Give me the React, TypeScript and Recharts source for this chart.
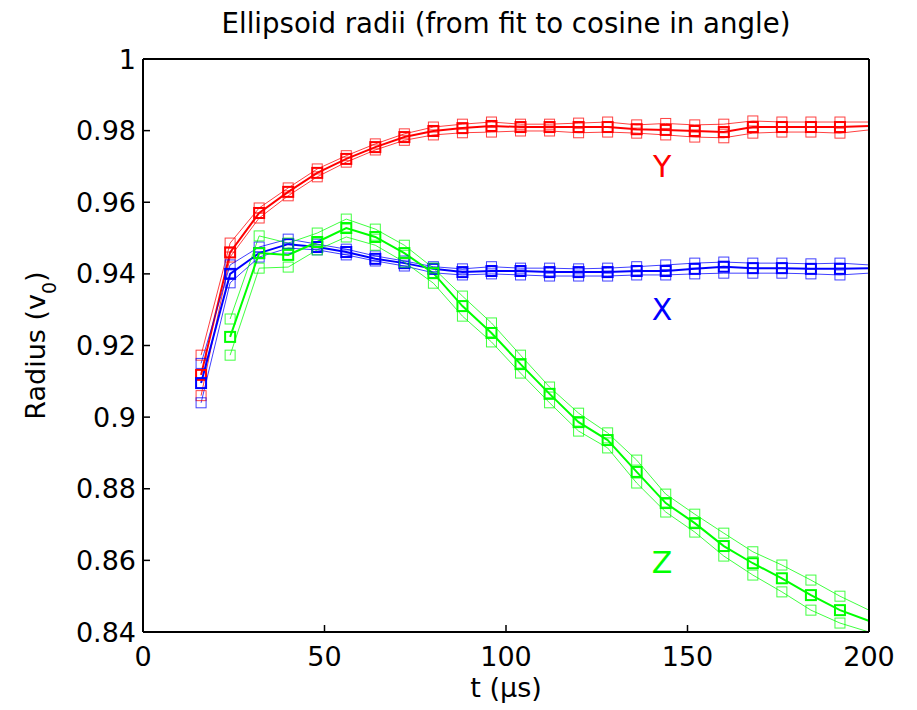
import { LineChart, Line, XAxis, YAxis, ReferenceDot } from 'recharts'

const FONT = '"DejaVu Sans", sans-serif'

// time (µs); last point sits past the axis edge and is clipped
const times = [16, 24, 32, 40, 48, 56, 64, 72, 80, 88, 96, 104, 112, 120, 128, 136, 144, 152, 160, 168, 176, 184, 192, 208]

const yMid = [0.9118, 0.946, 0.957, 0.9629, 0.9682, 0.9721, 0.9754, 0.9782, 0.9799, 0.9807, 0.9813, 0.981, 0.981, 0.981, 0.981, 0.9804, 0.9802, 0.9799, 0.9796, 0.981, 0.981, 0.981, 0.981, 0.9816]
const yHi = [0.9173, 0.9486, 0.9584, 0.964, 0.9693, 0.973, 0.9763, 0.9791, 0.981, 0.9818, 0.9824, 0.9818, 0.9818, 0.9821, 0.9824, 0.9816, 0.982, 0.9816, 0.9818, 0.9827, 0.9824, 0.9824, 0.9824, 0.9824]
const yLo = [0.906, 0.9447, 0.9556, 0.9618, 0.9671, 0.9712, 0.9746, 0.9773, 0.9788, 0.9794, 0.9796, 0.9799, 0.9799, 0.9794, 0.9796, 0.9793, 0.9788, 0.9782, 0.978, 0.9793, 0.9796, 0.9796, 0.9793, 0.9811]

const xMid = [0.9095, 0.94, 0.9458, 0.9483, 0.9475, 0.9461, 0.9442, 0.943, 0.9414, 0.9405, 0.9408, 0.9408, 0.9405, 0.9405, 0.9405, 0.9408, 0.9408, 0.9414, 0.942, 0.9416, 0.9416, 0.9414, 0.9414, 0.9418]
const xHi = [0.915, 0.9425, 0.9475, 0.9497, 0.9483, 0.9469, 0.945, 0.9436, 0.942, 0.9414, 0.942, 0.9416, 0.9416, 0.9414, 0.9416, 0.942, 0.9425, 0.943, 0.9433, 0.943, 0.943, 0.9428, 0.943, 0.942]
const xLo = [0.904, 0.9375, 0.9447, 0.9472, 0.9467, 0.9453, 0.9436, 0.9422, 0.9403, 0.9397, 0.94, 0.9397, 0.9394, 0.9394, 0.9394, 0.9397, 0.9397, 0.94, 0.9402, 0.9402, 0.9402, 0.94, 0.9397, 0.9407]

const zMid = [null, 0.9224, 0.9458, 0.9453, 0.9489, 0.9528, 0.9503, 0.9458, 0.9402, 0.931, 0.9235, 0.9148, 0.9065, 0.8986, 0.8936, 0.8847, 0.876, 0.8704, 0.864, 0.8592, 0.855, 0.8503, 0.8461, 0.8401]
const zHi = [null, 0.9274, 0.9506, 0.9486, 0.9514, 0.9553, 0.9525, 0.948, 0.9416, 0.9338, 0.9263, 0.9173, 0.9084, 0.9011, 0.8956, 0.888, 0.8785, 0.8729, 0.8676, 0.8624, 0.8587, 0.8545, 0.85, 0.8422]
const zLo = [null, 0.9173, 0.9416, 0.9419, 0.9467, 0.9503, 0.948, 0.9433, 0.9374, 0.9282, 0.921, 0.9123, 0.904, 0.8961, 0.8914, 0.8816, 0.8735, 0.8679, 0.8612, 0.8559, 0.8512, 0.8461, 0.8425, 0.8375]

const xTicks = [0, 50, 100, 150, 200]
const yTicks = [0.84, 0.86, 0.88, 0.9, 0.92, 0.94, 0.96, 0.98, 1]

const labels = [
    { text: 'Y', t: 143, v: 0.9701, color: '#ff0000' },
    { text: 'X', t: 143, v: 0.9302, color: '#0000ff' },
    { text: 'Z', t: 143, v: 0.8595, color: '#00ff00' },
]

const data = times.map((t, i) => ({
    t,
    yMid: yMid[i], yHi: yHi[i], yLo: yLo[i],
    xMid: xMid[i], xHi: xHi[i], xLo: xLo[i],
    zMid: zMid[i], zHi: zHi[i], zLo: zLo[i],
}))

const series = [
    { key: 'yHi', color: '#ff0000', main: false },
    { key: 'yLo', color: '#ff0000', main: false },
    { key: 'yMid', color: '#ff0000', main: true },
    { key: 'xHi', color: '#0000ff', main: false },
    { key: 'xLo', color: '#0000ff', main: false },
    { key: 'xMid', color: '#0000ff', main: true },
    { key: 'zHi', color: '#00ff00', main: false },
    { key: 'zLo', color: '#00ff00', main: false },
    { key: 'zMid', color: '#00ff00', main: true },
]

const squareDot = (color: string, sw: number, op: number) => (props: any) => {
    const { cx, cy, index, value } = props
    if (cx == null || cy == null || value == null || Number.isNaN(cy)) return <g key={`d-${index}`} />
    return (
        <rect key={`d-${index}`} x={cx - 5} y={cy - 5} width={10} height={10}
            fill="none" stroke={color} strokeWidth={sw} strokeOpacity={op} />
    )
}

const RadiusLabel = (props: any) => {
    const vb = props.viewBox || { y: 59, height: 573 }
    const cx = 45
    const cy = vb.y + vb.height / 2
    return (
        <text x={cx} y={cy} transform={`rotate(-90 ${cx} ${cy})`} textAnchor="middle"
            fontFamily={FONT} fontSize={27} fill="#000">
            Radius (v<tspan baselineShift="sub" fontSize={19}>0</tspan>)
        </text>
    )
}

const TimeLabel = (props: any) => {
    const vb = props.viewBox || { x: 143, width: 726 }
    return (
        <text x={vb.x + vb.width / 2} y={697} textAnchor="middle" fontFamily={FONT} fontSize={27} fill="#000">
            t (μs)
        </text>
    )
}

const tickStyle = { fontFamily: FONT, fontSize: 27, fill: '#000' }
const axisLine = { stroke: '#000', strokeWidth: 2 }
const tickLine = { stroke: '#000', strokeWidth: 1.5 }

export default function App() {
    return (
        <div style={{ position: 'absolute', left: 0, top: 0, width: 917, height: 710, background: '#fff' }}>
            <div style={{
                position: 'absolute', left: 143, width: 726, top: 7, textAlign: 'center',
                fontFamily: FONT, fontSize: 27.6, color: '#000', lineHeight: '34px',
            }}>
                Ellipsoid radii (from fit to cosine in angle)
            </div>
            <LineChart width={917} height={710} data={data}
                margin={{ top: 58, right: 47, bottom: 0, left: 0 }}>
                <XAxis dataKey="t" type="number" domain={[0, 200]} ticks={xTicks} allowDataOverflow
                    height={78} tickSize={-7} tickMargin={22} tick={tickStyle}
                    axisLine={axisLine} tickLine={tickLine} interval={0}
                    label={<TimeLabel />} />
                <XAxis xAxisId="top" orientation="top" dataKey="t" type="number" domain={[0, 200]}
                    ticks={xTicks} allowDataOverflow height={1} tickSize={-7} tick={false}
                    axisLine={axisLine} tickLine={tickLine} interval={0} />
                <YAxis type="number" domain={[0.84, 1]} ticks={yTicks} allowDataOverflow
                    width={143} tickSize={-7} tickMargin={14} tick={tickStyle}
                    axisLine={axisLine} tickLine={tickLine} interval={0}
                    tickFormatter={(v: number) => (v === 1 ? '1' : v === 0.9 ? '0.9' : v.toFixed(2))}
                    label={<RadiusLabel />} />
                <YAxis yAxisId="right" orientation="right" type="number" domain={[0.84, 1]} ticks={yTicks}
                    allowDataOverflow width={1} tickSize={-7} tick={false}
                    axisLine={axisLine} tickLine={tickLine} interval={0} />
                {series.map((s) => (
                    <Line key={s.key} dataKey={s.key} type="linear" isAnimationActive={false}
                        stroke={s.color} strokeWidth={s.main ? 2 : 1}
                        strokeOpacity={s.main ? 1 : 0.75}
                        dot={squareDot(s.color, s.main ? 2 : 1, s.main ? 1 : 0.75)}
                        activeDot={false} />
                ))}
                {labels.map((l) => (
                    <ReferenceDot key={l.text} x={l.t} y={l.v} r={0} fill="none" stroke="none"
                        label={{ value: l.text, position: 'center', fill: l.color, fontSize: 30, fontFamily: FONT }} />
                ))}
            </LineChart>
        </div>
    )
}
